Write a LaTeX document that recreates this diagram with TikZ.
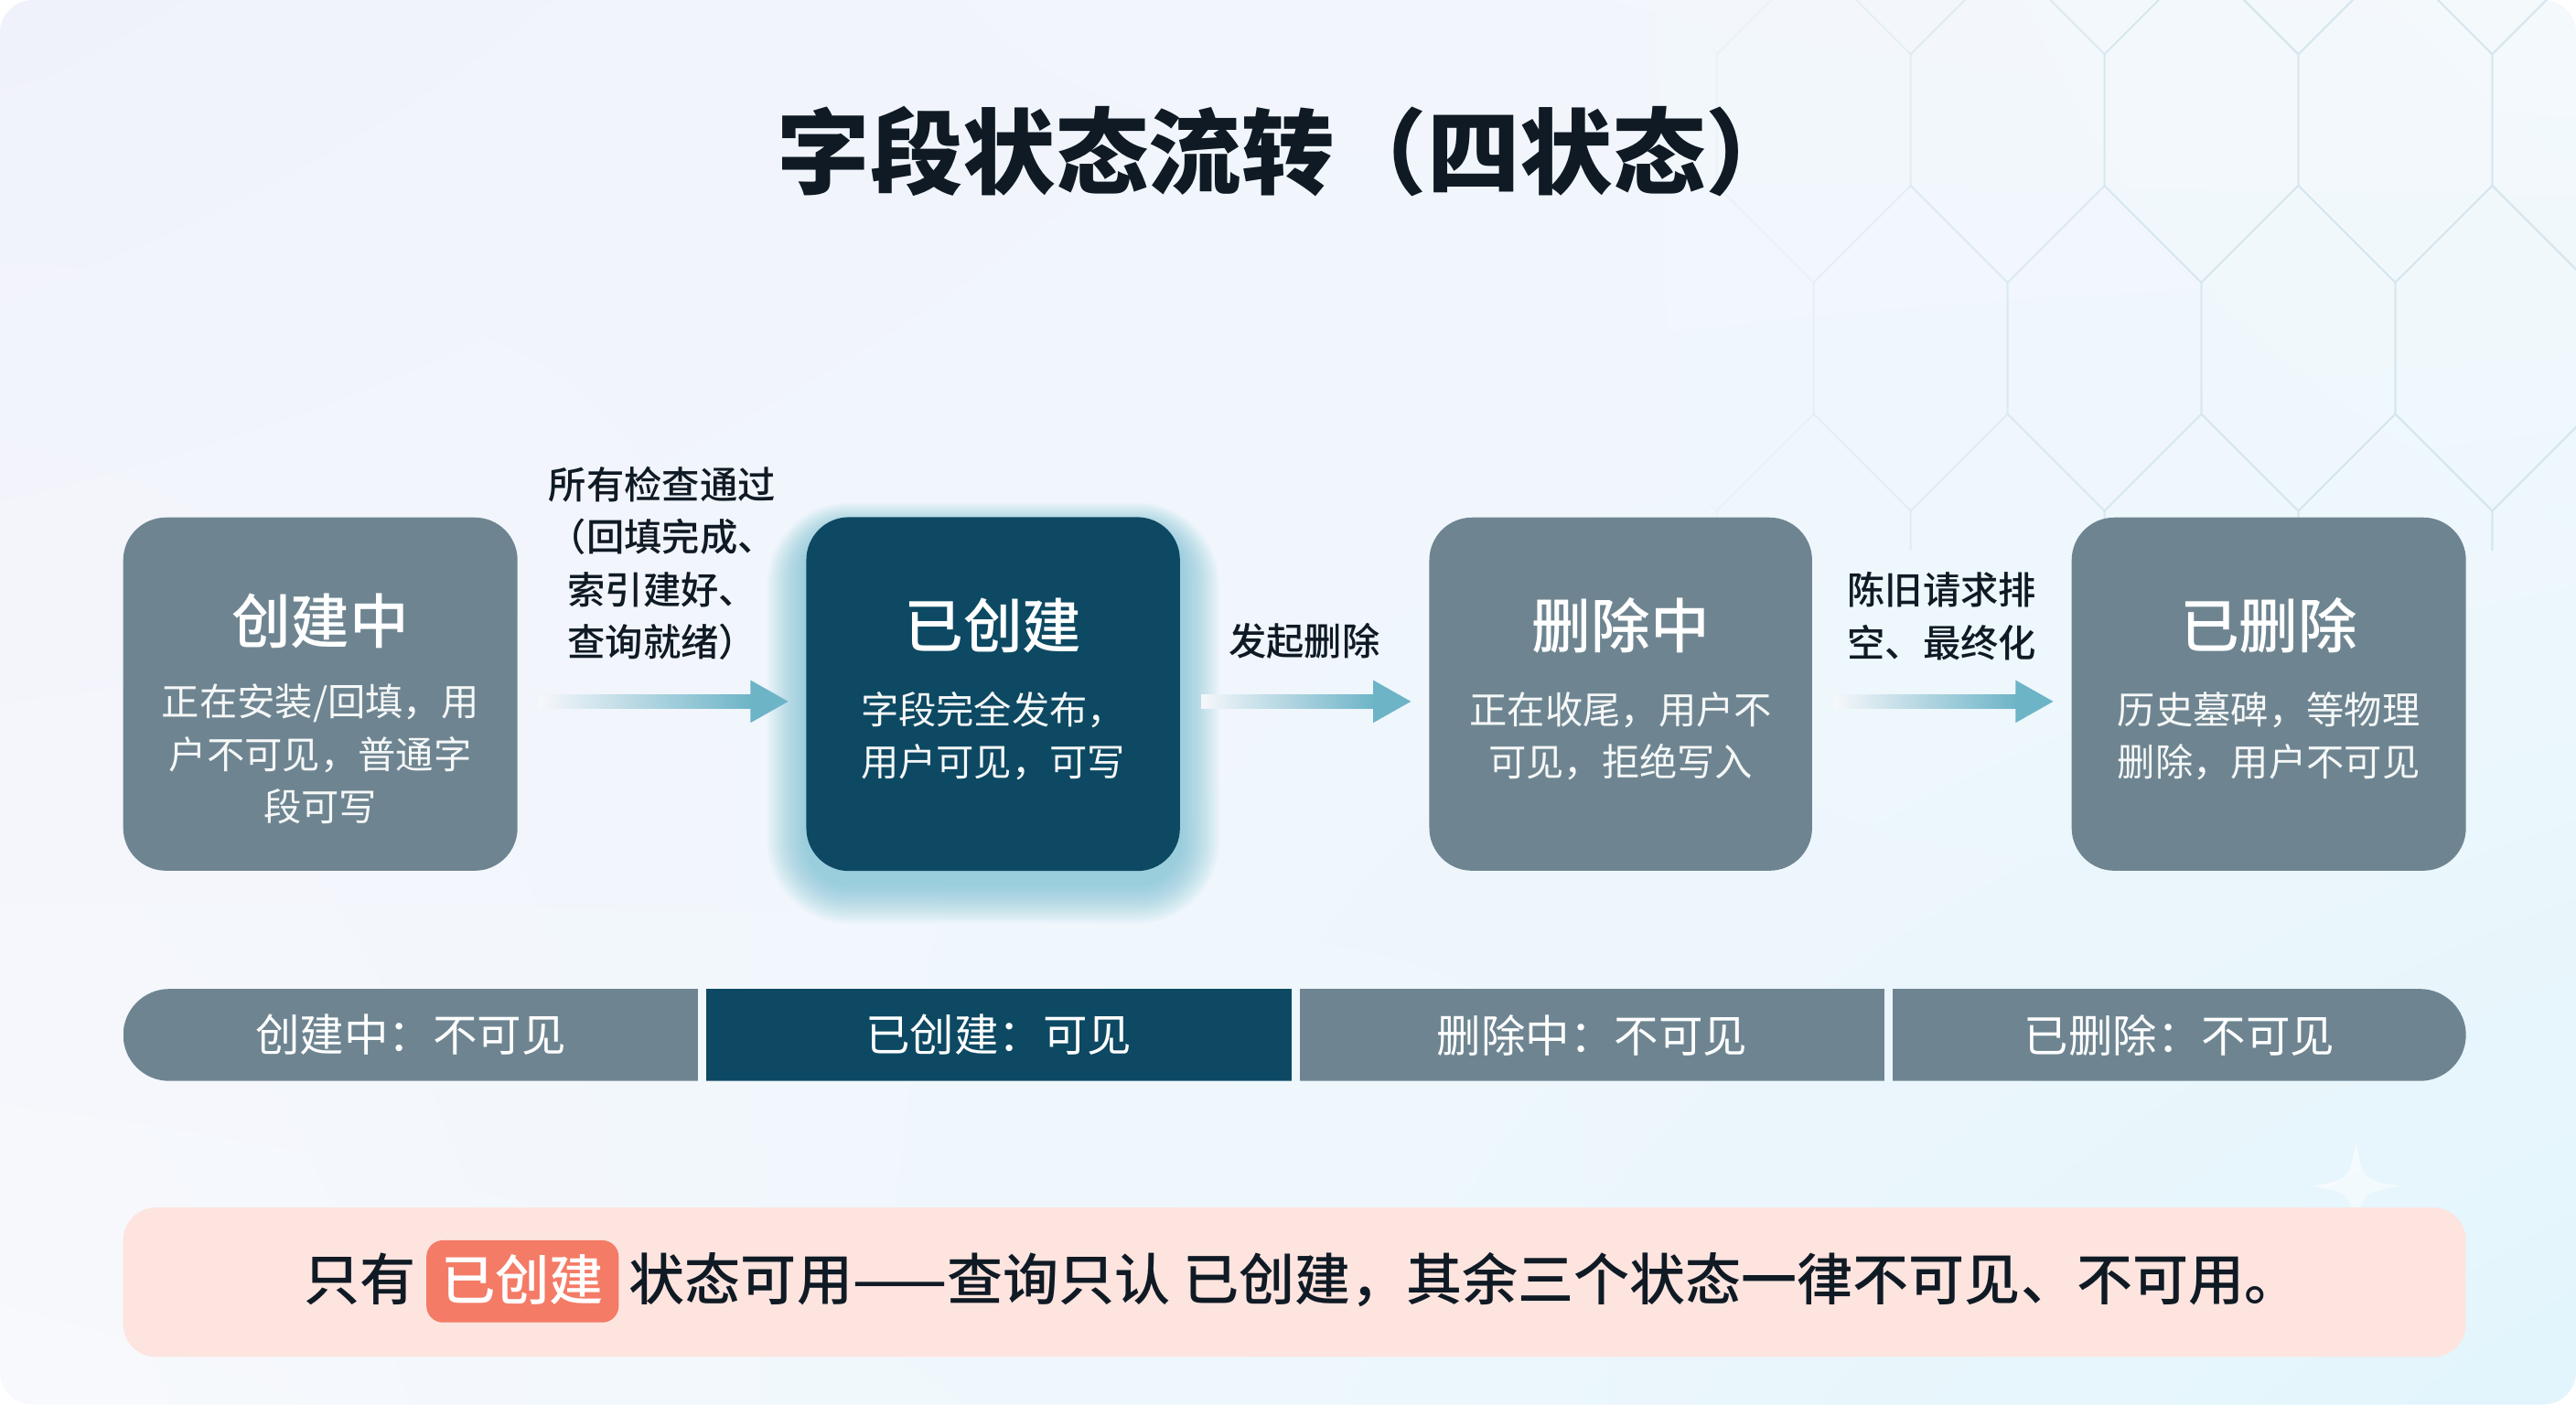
\documentclass[tikz,border=0pt]{standalone}
\usepackage{fontspec}
\setmainfont{Noto Sans CJK SC}
\newfontfamily\medfont{Noto Sans CJK SC}[UprightFont={* Medium}]
\usetikzlibrary{positioning,calc,shadings}

\definecolor{graybox}{HTML}{6E8591}
\definecolor{darkbox}{HTML}{0D4963}
\definecolor{arrowc}{HTML}{6DB4C7}
\definecolor{glowc}{HTML}{6ABBD0}
\definecolor{pinkc}{HTML}{FDE4DF}
\definecolor{hlc}{HTML}{F47B66}
\definecolor{inkc}{HTML}{0F1A24}
\definecolor{hexc}{HTML}{D3E5EE}
\definecolor{bgc}{HTML}{F6F7FB}
\definecolor{bgul}{HTML}{F0F2FB}
\definecolor{bgur}{HTML}{F4F9FC}
\definecolor{bgll}{HTML}{F8F9FC}
\definecolor{bglr}{HTML}{E2F5FC}

% gradient arrow between two state boxes
\newcommand{\flowarrow}[2]{%
  \shade[left color=bgc, right color=arrowc]
    ([xshift=13pt,yshift=-0.5pt]#1.east) rectangle ([xshift=-33pt,yshift=-8.5pt]#2.west);
  \fill[arrowc] ([xshift=-34pt,yshift=8.5pt]#2.west) -- ([xshift=-11pt,yshift=-4.5pt]#2.west)
    -- ([xshift=-34pt,yshift=-17.5pt]#2.west) -- cycle;
}

\tikzset{
  statebox/.style={rounded corners=26pt, minimum width=#1, minimum height=215pt, inner sep=0pt},
  stitle/.style={text=white, font=\medfont\fontsize{36}{40}\selectfont, inner sep=0pt},
  sdesc/.style={text=white!94!graybox, align=center, font=\fontsize{23}{32}\selectfont, inner sep=0pt},
  translabel/.style={text=inkc, align=center, font=\medfont\fontsize{23}{32}\selectfont, inner sep=0pt},
  barseg/.style={minimum height=56pt, inner sep=0pt, text=white, font=\fontsize{27}{30}\selectfont},
  notetxt/.style={text=inkc, inner sep=0pt, text height=28pt, text depth=5pt,
    font=\medfont\fontsize{34}{36}\selectfont},
  hlbox/.style={fill=hlc, rounded corners=10pt, text=white, inner xsep=9pt, inner ysep=0pt,
    text height=28pt, text depth=5pt, minimum height=50pt, font=\medfont\fontsize{33}{36}\selectfont}
}

\begin{document}
\begin{tikzpicture}[x=1pt, y=-1pt]
  \useasboundingbox (0,0) rectangle (1568,855);
  % background card
  \fill[white] (0,0) rectangle (1568,855);
  \shade[upper left=bgul, upper right=bgur, lower left=bgll, lower right=bglr,
    rounded corners=20pt] (0,0) rectangle (1568,855);

  % hexagon pattern, top right
  \begin{scope}
    \clip (1040,0) rectangle (1568,335);
    \foreach \hy/\off in {-66/0, 73/59, 212/0, 351/59} {
      \foreach \k in {0,...,5} {
        \pgfmathsetmacro\hx{1045+\off+\k*118}
        \pgfmathsetmacro\hop{max(0.12,min(0.8,(\hx-1000)/500))}
        \draw[hexc, line width=1pt, opacity=\hop] (\hx,{\hy-99}) -- ({\hx+59},{\hy-40}) -- ({\hx+59},{\hy+40})
          -- (\hx,{\hy+99}) -- ({\hx-59},{\hy+40}) -- ({\hx-59},{\hy-40}) -- cycle;
      }
    }
  \end{scope}

  % sparkle
  \fill[white, opacity=0.55] (1434,695) .. controls (1438,718) .. (1461,722) .. controls (1438,726) ..
    (1434,749) .. controls (1430,726) .. (1407,722) .. controls (1430,718) .. (1434,695);

  \node[font=\bfseries\fontsize{56.5}{60}\selectfont, text=inkc] (title) at (784,92) {字段状态流转（四状态）};

  % state boxes
  \node[statebox=240pt, fill=graybox] (creating) at (195,422.5) {};
  \node[statebox=227pt] (created) at (604.5,422.5) {};
  \foreach \g in {1,2,...,24} {
    \pgfmathsetmacro\rc{26+\g}
    \fill[glowc, opacity=0.035, rounded corners=\rc pt]
      ([xshift=-\g pt, yshift=-8pt+0.7*\g pt]created.north west) rectangle ([xshift=\g pt, yshift=-8pt-\g pt]created.south east);
  }
  \fill[darkbox, rounded corners=26pt] (created.north west) rectangle (created.south east);
  \node[statebox=233pt, fill=graybox] (deleting) at (986.5,422.5) {};
  \node[statebox=240pt, fill=graybox] (deleted) at (1381,422.5) {};

  \node[stitle] (creatingT) at (195,378) {创建中};
  \node[sdesc] (creatingD) at (195,459) {正在安装/回填，用\\户不可见，普通字\\段可写};
  \node[stitle] (createdT) at (604.5,381) {已创建};
  \node[sdesc] (createdD) at (604.5,448) {字段完全发布，\\用户可见，可写};
  \node[stitle] (deletingT) at (986.5,381) {删除中};
  \node[sdesc] (deletingD) at (986.5,448) {正在收尾，用户不\\可见，拒绝写入};
  \node[stitle] (deletedT) at (1381,381) {已删除};
  \node[sdesc] (deletedD) at (1381,448) {历史墓碑，等物理\\删除，用户不可见};

  % transitions
  \flowarrow{creating}{created}
  \flowarrow{created}{deleting}
  \flowarrow{deleting}{deleted}
  \node[translabel] (lblA) at (403,343) {所有检查通过\\（回填完成、\\索引建好、\\查询就绪）};
  \node[translabel] (lblB) at (794,390) {发起删除};
  \node[translabel] (lblC) at (1182,375) {陈旧请求排\\空、最终化};

  % visibility bar
  \begin{scope}
    \clip[rounded corners=28pt] (75,602) rectangle (1501,658);
    \node[barseg, fill=graybox, minimum width=350pt] (barA) at (250,630) {创建中：不可见};
    \node[barseg, fill=darkbox, minimum width=356pt] (barB) at (608,630) {已创建：可见};
    \node[barseg, fill=graybox, minimum width=356pt] (barC) at (969,630) {删除中：不可见};
    \node[barseg, fill=graybox, minimum width=349pt] (barD) at (1326.5,630) {已删除：不可见};
  \end{scope}

  % bottom note
  \fill[pinkc, rounded corners=20pt] (75,735) rectangle (1501,826);
  \node[notetxt, anchor=west] (onlyT) at (185,780) {只有};
  \node[hlbox, right=6pt of onlyT] (onlyHL) {已创建};
  \node[notetxt, right=6pt of onlyHL] (onlyRest) {状态可用——查询只认 已创建，其余三个状态一律不可见、不可用。};
\end{tikzpicture}
\end{document}
